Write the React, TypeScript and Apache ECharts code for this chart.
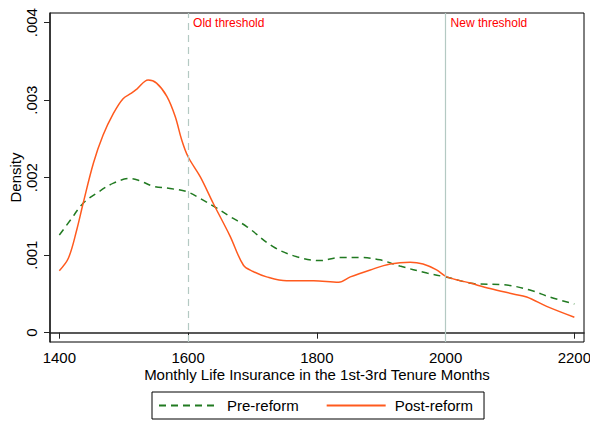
import React, { useEffect, useRef } from "react";
import * as echarts from "echarts";

const preX = [1400, 1417, 1437, 1458, 1484, 1510, 1525, 1546, 1572, 1598, 1619, 1644, 1665, 1691, 1732, 1769, 1805, 1836, 1867, 1898, 1929, 1971, 2002, 2043, 2095, 2131, 2162, 2200];
const preY = [0.00126, 0.00145, 0.00167, 0.0018, 0.00193, 0.00199, 0.00196, 0.00189, 0.00186, 0.00182, 0.00173, 0.00161, 0.0015, 0.00137, 0.00111, 0.00098, 0.00093, 0.00097, 0.00097, 0.00094, 0.00086, 0.00077, 0.000715, 0.000635, 0.000615, 0.00055, 0.00046, 0.00037];

const postX = [1400, 1414, 1427, 1437, 1453, 1468, 1484, 1499, 1512, 1520, 1538, 1551, 1567, 1580, 1590, 1600, 1619, 1639, 1665, 1686, 1701, 1722, 1753, 1795, 1834, 1852, 1883, 1914, 1945, 1965, 1986, 2002, 2038, 2069, 2105, 2126, 2157, 2200];
const postY = [0.0008, 0.00096, 0.001325, 0.00167, 0.00219, 0.00255, 0.00283, 0.00302, 0.00309, 0.00314, 0.00326, 0.00322, 0.00305, 0.00279, 0.00249, 0.00227, 0.00201, 0.00167, 0.00125, 0.00087, 0.00079, 0.00072, 0.00067, 0.00067, 0.00065, 0.00072, 0.00081, 0.000886, 0.00091, 0.000886, 0.00081, 0.00072, 0.00064, 0.00057, 0.0005, 0.00046, 0.00034, 0.0002];

const xTicks = [1400, 1600, 1800, 2000, 2200];
const yTicks = [0, 0.001, 0.002, 0.003, 0.004];
const seriesNames = ["Pre-reform", "Post-reform"];
const thresholds = [
  { value: 1600, label: "Old threshold", dashed: true },
  { value: 2000, label: "New threshold", dashed: false },
];
const labelY = 0.003996;

const FONT = "'Liberation Sans', Arial, Helvetica, sans-serif";

export default function App() {
  const ref = useRef<HTMLDivElement>(null);
  useEffect(() => {
    if (!ref.current) return;
    const chart = echarts.init(ref.current, undefined, { renderer: "svg" });
    const thrColor = "#b4c9c3";
    chart.setOption({
      animation: false,
      backgroundColor: "#ffffff",
      textStyle: { fontFamily: FONT },
      grid: {
        left: 50,
        right: 6,
        top: 13,
        bottom: 80,
        show: true,
        borderColor: "#000",
        borderWidth: 1,
        containLabel: false,
        outerBoundsMode: "none",
      },
      legend: {
        left: 152,
        top: 392,
        orient: "horizontal",
        padding: [6, 11, 6, 6],
        itemWidth: 59,
        itemHeight: 15,
        itemGap: 27,
        borderColor: "#000",
        borderWidth: 1,
        data: seriesNames,
        itemStyle: { opacity: 0, borderWidth: 0 },
        textStyle: { fontSize: 15, color: "#000", fontFamily: FONT, padding: [0, 0, 0, 4] },
      },
      xAxis: {
        type: "value",
        min: 1385.5,
        max: 2215,
        name: "Monthly Life Insurance in the 1st-3rd Tenure Months",
        nameLocation: "middle",
        nameGap: 25,
        nameMoveOverlap: false,
        nameTextStyle: { fontSize: 15, color: "#000", fontFamily: FONT },
        axisLine: { show: true, lineStyle: { color: "#222", width: 1.5 } },
        axisTick: { show: true, length: 6, customValues: xTicks, lineStyle: { color: "#222", width: 1 } },
        axisLabel: {
          customValues: xTicks,
          fontSize: 15,
          color: "#000",
          margin: 8,
          fontFamily: FONT,
          formatter: (v: number) => String(v),
        },
        splitLine: { show: false },
      },
      yAxis: {
        type: "value",
        min: -0.00012,
        max: 0.004125,
        name: "Density",
        nameLocation: "middle",
        nameGap: 27,
        nameMoveOverlap: false,
        nameTextStyle: { fontSize: 15, color: "#000", fontFamily: FONT },
        axisLine: { show: true, lineStyle: { color: "#222", width: 1.5 } },
        axisTick: { show: true, length: 6, customValues: yTicks, lineStyle: { color: "#222", width: 1 } },
        axisLabel: {
          customValues: yTicks,
          rotate: 90,
          fontSize: 15,
          color: "#000",
          margin: 11,
          fontFamily: FONT,
          formatter: (v: number) => (Math.abs(v) < 1e-9 ? "0" : v.toFixed(3).replace(/^0/, "")),
        },
        splitLine: { show: false },
      },
      series: [
        {
          name: "thresholds",
          type: "line",
          data: [],
          silent: true,
          markLine: {
            symbol: "none",
            silent: true,
            label: { show: false },
            data: thresholds.map((t) => ({
              xAxis: t.value,
              lineStyle: { color: thrColor, width: 1.2, type: t.dashed ? [7, 5] : "solid" },
            })),
          },
          markPoint: {
            symbol: "circle",
            symbolSize: 0,
            silent: true,
            label: {
              show: true,
              position: "right",
              distance: 5,
              color: "#ff0000",
              fontSize: 12,
              fontFamily: FONT,
              formatter: (p: any) => p.name,
            },
            data: thresholds.map((t) => ({ name: t.label, coord: [t.value, labelY] })),
          },
        },
        {
          name: seriesNames[0],
          type: "line",
          data: preX.map((x, i) => [x, preY[i]]),
          symbol: "none",
          smooth: 0.35,
          lineStyle: { color: "#217a21", width: 1.5, type: [7, 5] },
          itemStyle: { color: "#217a21" },
          z: 3,
        },
        {
          name: seriesNames[1],
          type: "line",
          data: postX.map((x, i) => [x, postY[i]]),
          symbol: "none",
          smooth: 0.35,
          lineStyle: { color: "#ff5a1e", width: 1.5, type: "solid" },
          itemStyle: { color: "#ff5a1e" },
          z: 4,
        },
      ],
    });
    return () => chart.dispose();
  }, []);
  return (
    <div
      ref={ref}
      style={{ position: "fixed", left: 0, top: 0, width: 590, height: 422, background: "#fff" }}
    />
  );
}
